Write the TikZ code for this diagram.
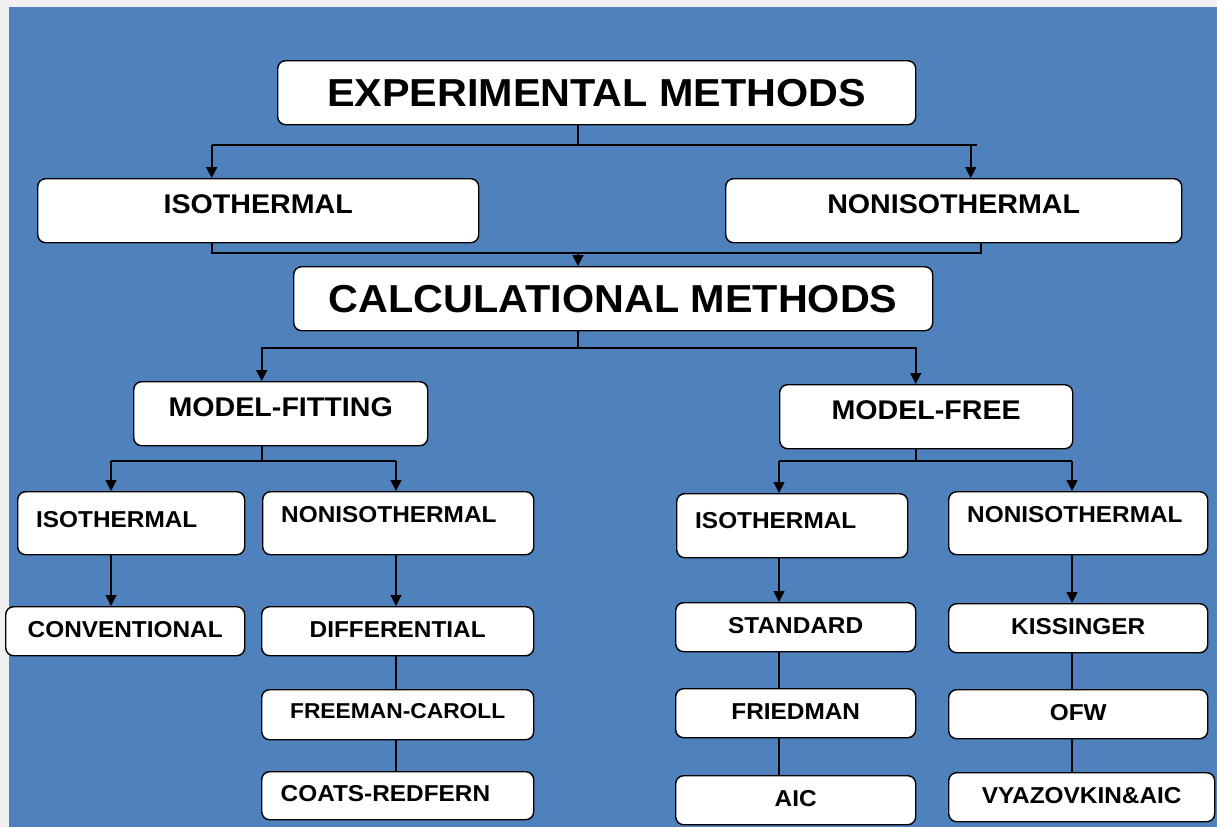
\documentclass[tikz,border=0pt]{standalone}
\usepackage{fontspec}
\setmainfont{Liberation Sans}[FakeStretch=1.06]
\usetikzlibrary{arrows.meta}
\definecolor{bgblue}{RGB}{79,129,189}
\definecolor{margin}{RGB}{240,240,240}

\tikzset{
  box/.style={draw=black, fill=white, rounded corners=8pt, line width=1.4pt,
    anchor=north west, inner ysep=0pt, inner xsep=0pt},
  topbox/.style={box, font=\fontsize{39}{39}\selectfont\bfseries, text height=46pt, text depth=18pt},
  midbox/.style={box, font=\fontsize{27}{27}\selectfont\bfseries, text height=35pt, text depth=29pt},
  subbox/.style={box, font=\fontsize{23}{23}\selectfont\bfseries, align=left, inner xsep=18.5pt},
  leafbox/.style={box, font=\fontsize{23}{23}\selectfont\bfseries, text height=30.5pt, text depth=18.5pt},
  link/.style={line width=1.6pt},
  arr/.style={link, -{Triangle[length=11pt,width=11pt]}}
}

\begin{document}
\begin{tikzpicture}[x=1pt,y=-1pt]
    \fill[margin] (0,0) rectangle (1217,827);
    \fill[bgblue] (9,7) rectangle (1217,827);
    \useasboundingbox (0,0) rectangle (1217,827);

    % upper part
    \node[topbox, minimum width=638pt] (exp) at (277,60) {EXPERIMENTAL METHODS};
    \node[midbox, minimum width=441pt] (iso) at (37,178) {ISOTHERMAL};
    \node[midbox, minimum width=456pt] (noniso) at (725,178) {NONISOTHERMAL};
    \node[topbox, minimum width=639pt] (calc) at (293,266) {CALCULATIONAL METHODS};
    \node[midbox, minimum width=294pt] (modfit) at (133,381) {MODEL-FITTING};
    \node[midbox, minimum width=293pt] (modfree) at (779,384) {MODEL-FREE};

    % sub groups
    \node[subbox, text width=190pt, text height=36pt, text depth=27pt] (fitiso) at (17,491) {ISOTHERMAL};
    \node[subbox, text width=234pt, text height=31pt, text depth=32pt] (fitnon) at (262,491) {NONISOTHERMAL};
    \node[subbox, text width=194pt, text height=35pt, text depth=29pt] (freeiso) at (676,493) {ISOTHERMAL};
    \node[subbox, text width=222pt, text height=31pt, text depth=32pt] (freenon) at (948,491) {NONISOTHERMAL};

    % methods
    \node[leafbox, minimum width=239pt] (conv) at (5,606) {CONVENTIONAL};
    \node[leafbox, minimum width=272pt] (diff) at (261,606) {DIFFERENTIAL};
    \node[leafbox, minimum width=272pt, font=\fontsize{21.5}{21.5}\selectfont\bfseries,
      text height=28.7pt, text depth=21.3pt] (freeman) at (261,689) {FREEMAN-CAROLL};
    \node[leafbox, align=left, inner xsep=19pt, text width=234pt, text height=30pt,
      text depth=18pt] (coats) at (261,771) {COATS-REDFERN};
    \node[leafbox, minimum width=240pt] (standard) at (675,602) {STANDARD};
    \node[leafbox, minimum width=240pt] (friedman) at (675,688) {FRIEDMAN};
    \node[leafbox, minimum width=240pt] (aic) at (675,775) {AIC};
    \node[leafbox, minimum width=259pt] (kiss) at (948,603) {KISSINGER};
    \node[leafbox, minimum width=259pt] (ofw) at (948,689) {OFW};
    \node[leafbox, minimum width=266pt] (vyaz) at (948,772) {VYAZOVKIN\&AIC};

    % junctions and columns
    \coordinate (s1) at (578,145);
    \coordinate (s2) at (578,253);
    \coordinate (s3) at (578,348);
    \coordinate (s4) at (0,461);
    \coordinate (ca) at (111,0);
    \coordinate (cb) at (396,0);
    \coordinate (cc) at (779,0);
    \coordinate (cd) at (1072,0);

    % experimental
    \draw[link] (exp.south -| s1) -- (s1);
    \draw[link] ([xshift=-46.5pt]iso.north |- s1) -- ([xshift=23pt]noniso.north |- s1);
    \draw[arr] ([xshift=-46.5pt]iso.north |- s1) -- ([xshift=-46.5pt]iso.north);
    \draw[arr] ([xshift=17pt]noniso.north |- s1) -- ([xshift=17pt]noniso.north);
    \draw[link] ([xshift=-46.5pt]iso.south) |- ([xshift=27pt]noniso.south |- s2)
      -- ([xshift=27pt]noniso.south);
    \draw[arr] (s2) -- (calc.north -| s2);

    % calculational
    \draw[link] (calc.south -| s3) -- (s3);
    \draw[arr] (s3) -| ([xshift=-19pt]modfit.north);
    \draw[arr] (s3) -| ([xshift=-10.5pt]modfree.north);

    \draw[link] ([xshift=-19pt]modfit.south) -- ([xshift=-19pt]modfit.south |- s4);
    \draw[link] (ca |- s4) -- (cb |- s4);
    \draw[arr] (ca |- s4) -- (fitiso.north -| ca);
    \draw[arr] (cb |- s4) -- (fitnon.north -| cb);

    \draw[link] ([xshift=-10.5pt]modfree.south) -- ([xshift=-10.5pt]modfree.south |- s4);
    \draw[link] (cc |- s4) -- (cd |- s4);
    \draw[arr] (cc |- s4) -- (freeiso.north -| cc);
    \draw[arr] (cd |- s4) -- (freenon.north -| cd);

    % lists
    \draw[arr] (fitiso.south -| ca) -- (conv.north -| ca);
    \draw[arr] (fitnon.south -| cb) -- (diff.north -| cb);
    \draw[arr] (freeiso.south -| cc) -- (standard.north -| cc);
    \draw[arr] (freenon.south -| cd) -- (kiss.north -| cd);
    \foreach \a/\b/\c in {diff/freeman/cb, freeman/coats/cb, standard/friedman/cc,
      friedman/aic/cc, kiss/ofw/cd, ofw/vyaz/cd}
      \draw[link] (\a.south -| \c) -- (\b.north -| \c);
\end{tikzpicture}
\end{document}
